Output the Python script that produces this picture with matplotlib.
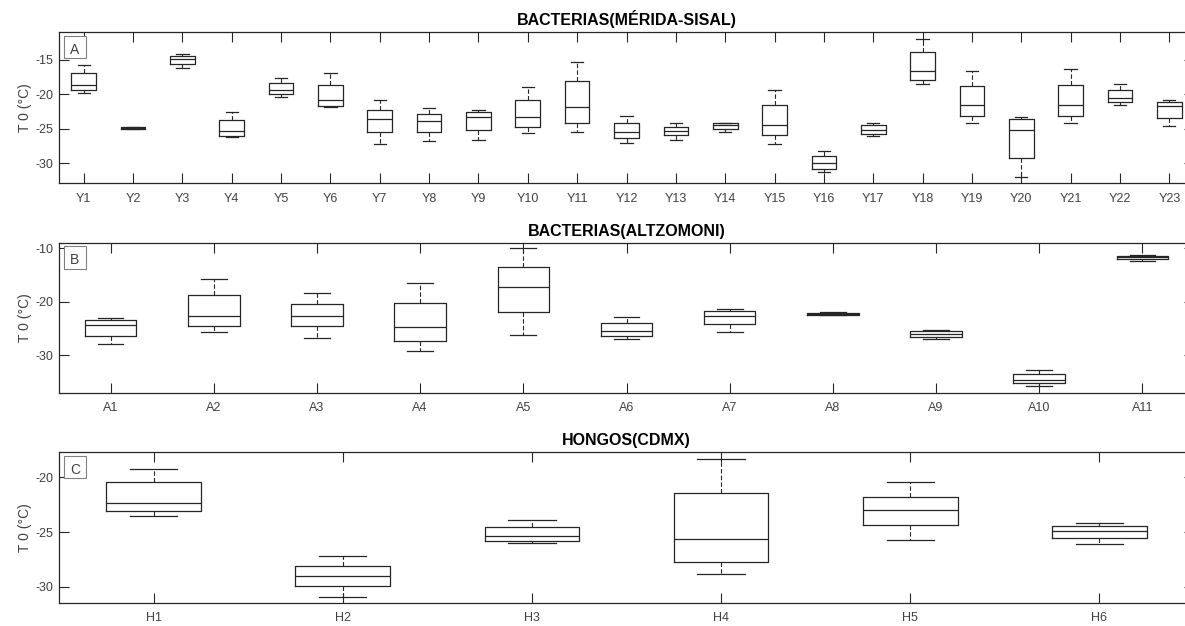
import matplotlib
matplotlib.use("Agg")
import matplotlib.pyplot as plt
from matplotlib.patches import Rectangle

plt.rcParams['font.family'] = ['Liberation Sans', 'DejaVu Sans']
plt.rcParams['axes.unicode_minus'] = False

# box statistics per sample: (whisker low, q1, median, q3, whisker high)
merida_labels = ["Y%d" % i for i in range(1, 24)]
merida_stats = [
    (-19.8, -19.4, -18.6, -16.9, -15.8),
    (-25.05, -25.0, -24.9, -24.8, -24.75),
    (-16.2, -15.6, -14.8, -14.4, -14.1),
    (-26.2, -26.1, -25.3, -23.7, -22.6),
    (-20.4, -20.0, -19.3, -18.4, -17.7),
    (-21.9, -21.7, -20.8, -18.6, -16.9),
    (-27.2, -25.5, -23.6, -22.2, -20.8),
    (-26.7, -25.5, -23.8, -22.8, -22.0),
    (-26.6, -25.2, -23.3, -22.5, -22.2),
    (-25.6, -24.7, -23.3, -20.8, -19.0),
    (-25.5, -24.1, -21.9, -18.1, -15.3),
    (-27.1, -26.4, -25.4, -24.2, -23.1),
    (-26.6, -25.9, -25.3, -24.7, -24.1),
    (-25.5, -25.0, -24.4, -24.15, -24.1),
    (-27.2, -25.9, -24.4, -21.6, -19.4),
    (-31.2, -30.8, -30.0, -28.9, -28.2),
    (-26.0, -25.7, -25.2, -24.5, -24.1),
    (-18.5, -17.9, -16.6, -13.9, -12.0),
    (-24.1, -23.2, -21.6, -18.8, -16.6),
    (-32.0, -29.2, -25.2, -23.6, -23.3),
    (-24.1, -23.2, -21.6, -18.6, -16.3),
    (-21.6, -21.1, -20.5, -19.4, -18.5),
    (-24.6, -23.5, -21.7, -21.1, -20.8),
]

altzomoni_labels = ["A%d" % i for i in range(1, 12)]
altzomoni_stats = [
    (-27.8, -26.4, -24.4, -23.4, -23.0),
    (-25.6, -24.6, -22.6, -18.8, -15.8),
    (-26.8, -24.6, -22.6, -20.4, -18.4),
    (-29.2, -27.4, -24.8, -20.2, -16.6),
    (-26.2, -22.0, -17.2, -13.6, -10.0),
    (-27.0, -26.3, -25.4, -24.0, -22.8),
    (-25.6, -24.2, -22.7, -21.8, -21.4),
    (-22.55, -22.45, -22.3, -22.1, -22.0),
    (-27.0, -26.6, -26.0, -25.5, -25.2),
    (-35.8, -35.2, -34.5, -33.5, -32.7),
    (-12.4, -12.1, -11.7, -11.4, -11.3),
]

cdmx_labels = ["H%d" % i for i in range(1, 7)]
cdmx_stats = [
    (-23.5, -23.05, -22.3, -20.4, -19.2),
    (-30.9, -29.9, -29.0, -28.1, -27.2),
    (-26.0, -25.8, -25.4, -24.5, -23.9),
    (-28.8, -27.7, -25.6, -21.4, -18.3),
    (-25.7, -24.4, -23.0, -21.8, -20.4),
    (-26.1, -25.5, -24.9, -24.45, -24.15),
]

panels = [
    ("BACTERIAS(MÉRIDA-SISAL)", "A", merida_labels, merida_stats,
     (-32.9, -11.0), [-30, -25, -20, -15]),
    ("BACTERIAS(ALTZOMONI)", "B", altzomoni_labels, altzomoni_stats,
     (-36.96, -9.0), [-30, -20, -10]),
    ("HONGOS(CDMX)", "C", cdmx_labels, cdmx_stats,
     (-31.46, -17.71), [-30, -25, -20]),
]

W, H = 1185, 626
fig = plt.figure(figsize=(W / 100, H / 100), dpi=100)

left, right = 59, 1194
tops = [32.3, 242.7, 452.3]
bottoms = [183.3, 392.7, 602.7]

line_col = '#262626'
for (title, tag, labels, stats, ylim, yticks), top, bot in zip(panels, tops, bottoms):
    ax = fig.add_axes([left / W, 1 - bot / H, (right - left) / W, (bot - top) / H])
    bstats = [dict(whislo=s[0], q1=s[1], med=s[2], q3=s[3], whishi=s[4], fliers=[])
              for s in stats]
    pos = list(range(1, len(stats) + 1))
    ax.bxp(bstats, positions=pos, widths=0.5, capwidths=0.25, showfliers=False,
           boxprops=dict(color=line_col, linewidth=0.9),
           medianprops=dict(color=line_col, linewidth=0.9),
           whiskerprops=dict(color=line_col, linewidth=0.8, linestyle=(0, (4, 2))),
           capprops=dict(color=line_col, linewidth=0.9))
    ax.set_xlim(0.5, len(stats) + 0.5)
    ax.set_ylim(*ylim)
    ax.set_xticks(pos)
    ax.set_xticklabels(labels)
    ax.set_yticks(yticks)
    ax.tick_params(direction='in', length=7.5, width=0.8, color=line_col,
                   labelsize=9, labelcolor='#404040', top=True, right=True)
    ax.tick_params(axis='x', pad=7)
    ax.tick_params(axis='y', pad=4)
    for sp in ax.spines.values():
        sp.set_color(line_col)
        sp.set_linewidth(0.9)
    ax.set_title(title, fontsize=11.5, fontweight='bold', pad=5)
    ax.set_ylabel("T 0 (°C)", fontsize=10, color='#404040')
    ax.yaxis.set_label_coords(-0.024, 0.5)

    # panel letter in a small framed square at the upper-left corner
    ax.add_patch(Rectangle((0.004, 0.827), 0.0198, 0.148, transform=ax.transAxes,
                           fill=True, fc='white', ec='#808080', lw=0.8, zorder=5))
    ax.text(0.0139, 0.885, tag, transform=ax.transAxes, fontsize=10, color='#404040',
            va='center', ha='center', zorder=6)

fig.savefig("out.png", dpi=100)
